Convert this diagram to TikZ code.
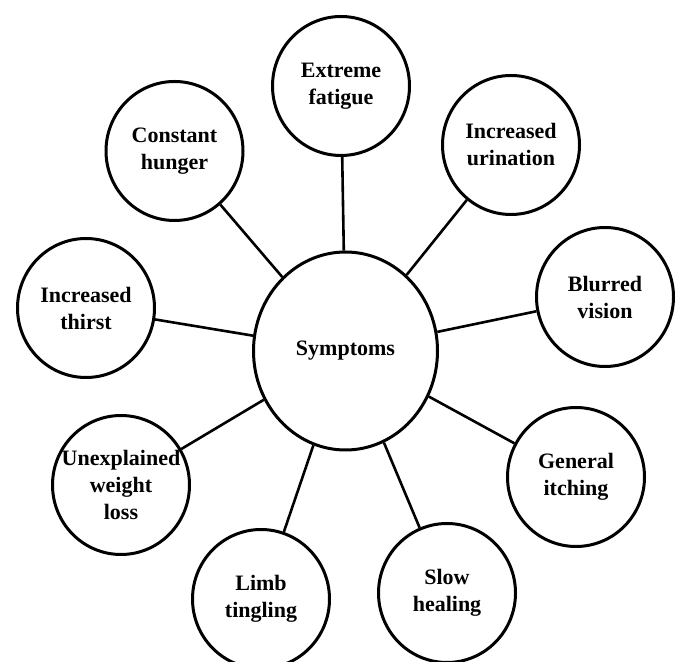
\documentclass[tikz,border=0pt]{standalone}
\usepackage{fontspec}
\setmainfont{Liberation Serif}
\usetikzlibrary{shapes.geometric}
\begin{document}
\begin{tikzpicture}[x=1pt,y=1pt,
  bubble/.style={draw=black,line width=3pt,ellipse,minimum width=137pt,minimum height=139pt,inner sep=0pt,fill=white},
  hub/.style={draw=black,line width=3pt,ellipse,minimum width=184pt,minimum height=198pt,inner sep=0pt,fill=white},
  txt/.style={align=center,font=\bfseries\fontsize{22}{27}\selectfont,inner sep=0pt},
  link/.style={draw=black,line width=2.6pt}]
\useasboundingbox (0,0) rectangle (677,661);
\clip (0,0) rectangle (677,661);
\node[hub] (S) at (345.5,310) {};
\node[bubble] (fat) at (341,575) {};
\node[bubble] (hun) at (174.5,510) {};
\node[bubble] (uri) at (511,516) {};
\node[bubble] (blu) at (605,364) {};
\node[bubble] (thi) at (86,353) {};
\node[bubble] (wei) at (121,176) {};
\node[bubble] (itc) at (576,184) {};
\node[bubble] (lim) at (261,62) {};
\node[bubble] (slo) at (447,68) {};
\foreach \n in {fat,hun,uri,blu,thi,wei,itc,lim,slo}
  \draw[link] (S) -- (\n);
\node[txt] (tS) at (S) {Symptoms};
\node[txt] (tfat) at (fat) {Extreme\\fatigue};
\node[txt] (thun) at (hun) {Constant\\hunger};
\node[txt] (turi) at (uri) {Increased\\urination};
\node[txt] (tblu) at (blu) {Blurred\\vision};
\node[txt] (tthi) at (thi) {Increased\\thirst};
\node[txt] (twei) at (wei) {Unexplained\\weight\\loss};
\node[txt] (titc) at (itc) {General\\itching};
\node[txt] (tlim) at (lim) {Limb\\tingling};
\node[txt] (tslo) at (slo) {Slow\\healing};
\end{tikzpicture}
\end{document}
